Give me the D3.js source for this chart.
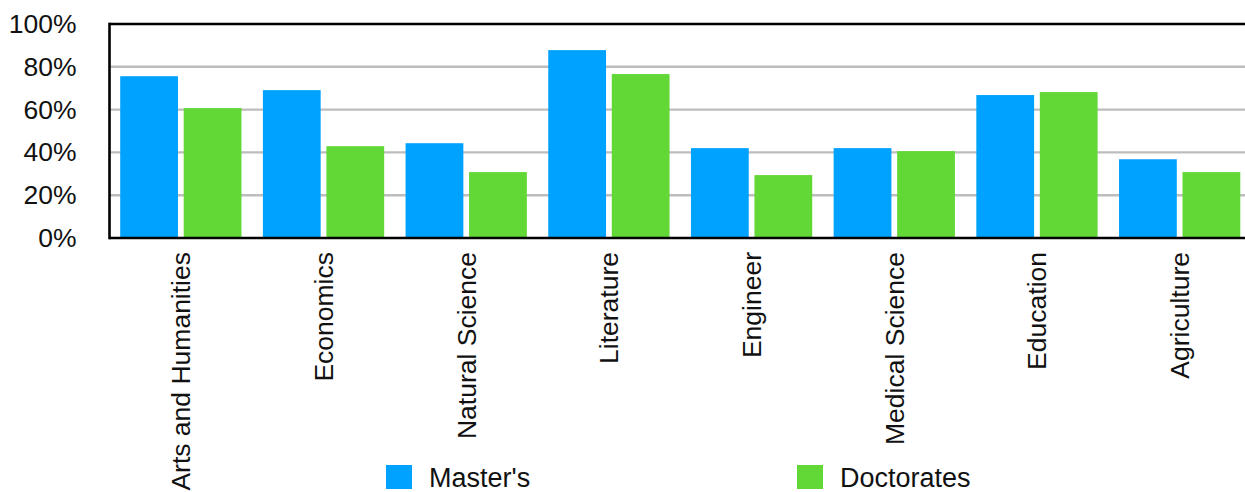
<!DOCTYPE html>
<html>
<head>
<meta charset="utf-8">
<script src="https://cdn.jsdelivr.net/npm/d3@7"></script>
<style>
  html, body { margin: 0; padding: 0; background: #fff; }
  svg { display: block; font-family: "Liberation Sans", Arial, Helvetica, sans-serif; }
</style>
</head>
<body>
<svg id="chart" width="1245" height="492"></svg>
<script>
// Share of graduates by field, Master's vs Doctorates (percent)
const categories = ["Arts and Humanities", "Economics", "Natural Science", "Literature",
                    "Engineer", "Medical Science", "Education", "Agriculture"];
const seriesNames = ["Master's", "Doctorates"];
const masters    = [75.6, 69.1, 44.3, 87.8, 42.0, 42.0, 66.8, 36.8];
const doctorates = [60.7, 42.9, 30.8, 76.6, 29.4, 40.6, 68.2, 30.8];
const yTicks = [0, 20, 40, 60, 80, 100];
const colors = ["#00A2FF", "#61D836"];

const seriesValues = [masters, doctorates];
const rows = categories.map((c, i) => ({
  category: c,
  values: seriesNames.map((s, j) => ({ series: s, value: seriesValues[j][i] }))
}));

const svg = d3.select("#chart");
const plot = { left: 109.5, right: 1251, top: 24, bottom: 238 };

const x0 = d3.scaleBand().domain(categories)
  .range([plot.left, plot.right]).paddingInner(0.15).paddingOuter(0.075);
const x1 = d3.scaleBand().domain(seriesNames)
  .range([0, x0.bandwidth()]).paddingInner(0.09).paddingOuter(0);
const y = d3.scaleLinear().domain([0, 100]).range([plot.bottom, plot.top]);
const color = d3.scaleOrdinal().domain(seriesNames).range(colors);

// horizontal gridlines
svg.append("g").selectAll("line")
  .data(yTicks.filter(t => t > 0 && t < 100))
  .join("line")
  .attr("x1", plot.left).attr("x2", plot.right)
  .attr("y1", d => y(d)).attr("y2", d => y(d))
  .attr("stroke", "#bdbdbd").attr("stroke-width", 2.4);

// bars
svg.append("g").selectAll("g")
  .data(rows)
  .join("g")
  .attr("transform", d => `translate(${x0(d.category)},0)`)
  .selectAll("rect")
  .data(d => d.values)
  .join("rect")
  .attr("x", d => x1(d.series))
  .attr("width", x1.bandwidth())
  .attr("y", d => y(d.value))
  .attr("height", d => y(0) - y(d.value))
  .attr("fill", d => color(d.series));

// frame: top, left and bottom edges
const frame = svg.append("g").attr("stroke", "#000").attr("stroke-width", 2.6).attr("fill", "none");
frame.append("line").attr("x1", plot.left).attr("x2", plot.right).attr("y1", y(100)).attr("y2", y(100));
frame.append("line").attr("x1", plot.left).attr("x2", plot.left).attr("y1", y(100) - 1.3).attr("y2", y(0) + 1.3);
frame.append("line").attr("x1", plot.left).attr("x2", plot.right).attr("y1", y(0)).attr("y2", y(0));

const labelFont = "'Liberation Sans', Arial, sans-serif";

// y axis labels
const yAxis = d3.axisLeft(y).tickValues(yTicks).tickFormat(d => d + "%").tickSize(0).tickPadding(33);
const gy = svg.append("g").attr("transform", `translate(${plot.left},0)`).call(yAxis);
gy.select(".domain").remove();
gy.selectAll("text")
  .attr("font-size", 26.5).attr("fill", "#111")
  .attr("font-family", labelFont);

// x axis labels, rotated
const xAxis = d3.axisBottom(x0).tickSize(0).tickPadding(0);
const gx = svg.append("g").attr("transform", `translate(0,${plot.bottom})`).call(xAxis);
gx.select(".domain").remove();
gx.selectAll("text")
  .attr("font-size", 26.5).attr("fill", "#111")
  .attr("font-family", labelFont)
  .attr("transform", "rotate(-90)")
  .attr("text-anchor", "end")
  .attr("x", -14).attr("y", 0).attr("dy", "0.35em");

// legend
const legendX = [386, 797];
const legend = svg.append("g").selectAll("g")
  .data(seriesNames)
  .join("g")
  .attr("transform", (d, i) => `translate(${legendX[i]},465)`);
legend.append("rect").attr("width", 26).attr("height", 24).attr("fill", d => color(d));
legend.append("text")
  .attr("x", 43).attr("y", 22)
  .attr("font-size", 27).attr("fill", "#111")
  .attr("font-family", labelFont)
  .text(d => d);
</script>
</body>
</html>
